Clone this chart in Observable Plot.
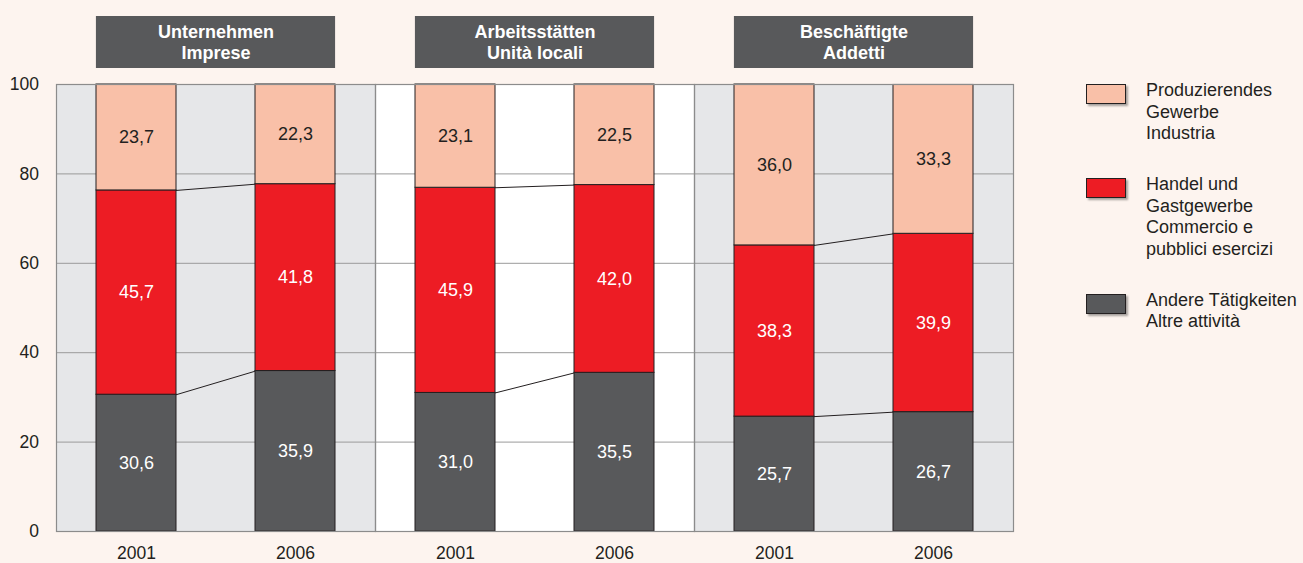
<!DOCTYPE html>
<html>
<head>
<meta charset="utf-8">
<script src="https://cdn.jsdelivr.net/npm/d3@7"></script>
<script src="https://cdn.jsdelivr.net/npm/@observablehq/plot@0.6"></script>
<style>
  html, body { margin: 0; padding: 0; background: #fdf4ef; }
  #wrap { position: relative; width: 1303px; height: 563px; background: #fdf4ef; font-family: "Liberation Sans", Arial, sans-serif; }
  #legend { position: absolute; left: 1086px; top: 80px; display: flex; flex-direction: column; gap: 29.5px; }
  .item { display: flex; align-items: flex-start; }
  .sw { width: 38px; height: 18px; margin-top: 4px; border: 1px solid #231f20; box-shadow: 2px 2px 2px rgba(0,0,0,0.35); }
  .lbl { margin-left: 20px; font-size: 18px; line-height: 21.5px; color: #231f20; white-space: pre; }
</style>
</head>
<body>
<div id="wrap"><div id="legend"></div></div>
<script>
// ---- data ----
const panels = ["Unternehmen\nImprese", "Arbeitsstätten\nUnità locali", "Beschäftigte\nAddetti"];
const years = ["2001", "2006"];
const seriesNames = [
  "Andere Tätigkeiten\nAltre attività",
  "Handel und\nGastgewerbe\nCommercio e\npubblici esercizi",
  "Produzierendes\nGewerbe\nIndustria"
];
// values in order: panel1 2001, panel1 2006, panel2 2001, panel2 2006, panel3 2001, panel3 2006
const andere = [30.6, 35.9, 31.0, 35.5, 25.7, 26.7];
const handel = [45.7, 41.8, 45.9, 42.0, 38.3, 39.9];
const produz = [23.7, 22.3, 23.1, 22.5, 36.0, 33.3];
const yTicks = [0, 20, 40, 60, 80, 100];
const seriesColors = ["#58595b", "#ed1c24", "#f9c0a8"];
const panelFills = ["#e6e7e9", "#ffffff", "#e6e7e9"];

// ---- layout ----
const W = 1303, H = 563;
const mL = 55, mR = 290, mT = 84, mB = 32;
const frameH = H - mT - mB;
const panelW = (W - mL - mR) / panels.length;
const outerPad = 0.25, innerPad = 0.5;
const step = panelW / (years.length - innerPad + 2 * outerPad);
const headerInset = step * outerPad;
const pxToY = 100 / frameH;
const headerY1 = 100 + 16 * pxToY, headerY2 = 100 + 68 * pxToY;

// ---- build rows ----
const seriesVals = [andere, handel, produz];
const rows = [];
panels.forEach((p, pi) => {
  years.forEach((yr, yi) => {
    let cum = 0;
    seriesVals.forEach((vals, si) => {
      const v = vals[pi * years.length + yi];
      rows.push({panel: p, year: yr, series: seriesNames[si], si, value: v, y1: cum, y2: cum + v, mid: cum + v / 2});
      cum += v;
    });
  });
});

// connector lines between 2001 and 2006 at stack boundaries (extended to band centres so they meet bar edges)
const links = [];
panels.forEach((p) => {
  for (let si = 0; si < seriesNames.length - 1; si++) {
    const a = rows.find(r => r.panel === p && r.year === years[0] && r.si === si).y2;
    const b = rows.find(r => r.panel === p && r.year === years[1] && r.si === si).y2;
    const ext = (b - a) * (step * (1 - innerPad) / 2) / (step * innerPad);
    links.push({panel: p, a: a - ext, b: b + ext});
  }
});

const fmt = v => v.toFixed(1).replace(".", ",");
const panelRows = panels.map((p, i) => ({panel: p, fill: panelFills[i]}));

const chart = Plot.plot({
  width: W, height: H,
  marginLeft: mL, marginRight: mR, marginTop: mT, marginBottom: mB,
  style: {background: "transparent", fontFamily: "'Liberation Sans', Arial, sans-serif", fontSize: "17.5px", color: "#231f20", overflow: "visible"},
  fx: {domain: panels, padding: 0, axis: null},
  x: {domain: years, paddingInner: innerPad, paddingOuter: outerPad, tickSize: 0, tickPadding: 15, label: null},
  y: {domain: [0, 100], ticks: yTicks, tickSize: 0, tickPadding: 17.5, label: null},
  color: {domain: seriesNames, range: seriesColors},
  marks: [
    Plot.rect(panelRows.filter(d => d.fill !== "#ffffff"), {fx: "panel", fill: "#e6e7e9"}),
    Plot.rect(panelRows.filter(d => d.fill === "#ffffff"), {fx: "panel", fill: "#ffffff"}),
    Plot.ruleY(yTicks.filter(t => t > 0 && t < 100), {stroke: "#9a9a9a", strokeWidth: 1}),
    Plot.link(links, {fx: "panel", x1: () => years[0], x2: () => years[1], y1: "a", y2: "b", stroke: "#231f20", strokeWidth: 1}),
    Plot.barY(rows, {fx: "panel", x: "year", y1: "y1", y2: "y2", fill: "series", stroke: "#231f20", strokeWidth: 1}),
    Plot.text(rows.filter(r => r.si < 2), {fx: "panel", x: "year", y: "mid", text: d => fmt(d.value), fill: "white", fontSize: 18}),
    Plot.text(rows.filter(r => r.si === 2), {fx: "panel", x: "year", y: "mid", text: d => fmt(d.value), fill: "#231f20", fontSize: 18}),
    Plot.frame({stroke: "#8c8c8c", strokeWidth: 1.2}),
    Plot.rect(panelRows, {fx: "panel", y1: () => headerY1, y2: () => headerY2, insetLeft: headerInset, insetRight: headerInset, fill: "#58595b"}),
    Plot.text(panelRows, {fx: "panel", text: "panel", frameAnchor: "top", dy: -43, lineAnchor: "middle", lineHeight: 1.2, fill: "white", fontWeight: "bold", fontSize: 18})
  ]
});
document.getElementById("wrap").prepend(chart);

// legend (top to bottom: reversed stack order)
const legend = document.getElementById("legend");
[2, 1, 0].forEach(i => {
  const item = document.createElement("div");
  item.className = "item";
  const sw = document.createElement("div");
  sw.className = "sw";
  sw.style.background = seriesColors[i];
  const lbl = document.createElement("div");
  lbl.className = "lbl";
  lbl.textContent = seriesNames[i];
  item.append(sw, lbl);
  legend.append(item);
});
</script>
</body>
</html>
